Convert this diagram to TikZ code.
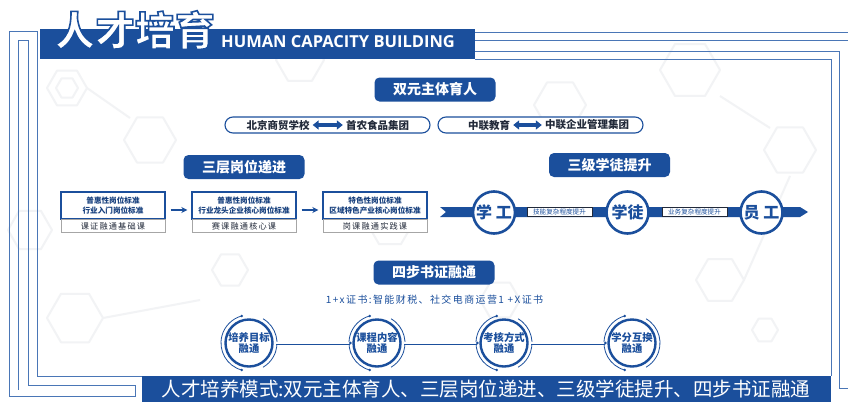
\documentclass[tikz,border=0pt]{standalone}
\usepackage{fontspec}
\setmainfont{Noto Sans CJK SC}
\newfontfamily\latb{Open Sans}
\newfontfamily\spaced{Noto Sans CJK SC}[LetterSpace=14]
\usetikzlibrary{arrows.meta,calc}
\definecolor{mblue}{HTML}{1B4F9C}
\definecolor{fblue}{HTML}{4A76B6}
\definecolor{tdark}{HTML}{222A3A}
\definecolor{hexc}{HTML}{F2F3F5}
\newcommand\fs[1]{\fontsize{#1}{#1}\selectfont}
\newcommand\outlined[1]{\special{pdf:code 2 Tr 1.6 w 0.106 0.31 0.612 RG}#1\special{pdf:code 0 Tr}}
\newcommand\hexa[3]{\draw[hexline] ($(#1,#2)+(0:#3)$) -- ($(#1,#2)+(60:#3)$) -- ($(#1,#2)+(120:#3)$) -- ($(#1,#2)+(180:#3)$) -- ($(#1,#2)+(240:#3)$) -- ($(#1,#2)+(300:#3)$) -- cycle;}
\begin{document}
\begin{tikzpicture}[x=1pt,y=-1pt,
  frame/.style={fblue,line width=0.9pt},
  hexline/.style={hexc,line width=2pt,line join=round},
  pill/.style={fill=mblue,rounded corners=5pt,text=white,font=\bfseries\fs{14},minimum width=121pt,minimum height=24pt,inner sep=0pt},
  stad/.style={draw=mblue,line width=1.1pt,fill=white,rounded corners=8pt,minimum width=205pt,minimum height=16pt,inner sep=0pt},
  pairtxt/.style={font=\bfseries\fs{10.5},text=tdark,inner sep=1pt},
  dblarr/.style={mblue,line width=3.2pt,{Triangle[length=6pt,width=9pt]}-{Triangle[length=6pt,width=9pt]},shorten <=2pt,shorten >=2pt},
  stdtop/.style={draw=mblue,line width=1.4pt,fill=white,minimum width=104pt,minimum height=27pt,inner sep=0pt,align=center,font=\bfseries\fs{7.6},text=mblue!80!black},
  stdbot/.style={draw=gray!70,line width=0.7pt,fill=white,minimum width=104pt,minimum height=13.5pt,inner sep=0pt,font=\spaced\fs{8.2},text=tdark},
  stepar/.style={mblue,line width=1.4pt,-{Stealth[length=6pt,width=6pt]},shorten <=5pt,shorten >=4pt},
  role/.style={circle,draw=mblue,line width=2.6pt,fill=white,minimum size=42pt,inner sep=0pt,font=\bfseries\fs{16},text=mblue},
  tag/.style={draw=tdark,line width=0.5pt,fill=white,minimum width=65pt,minimum height=9pt,inner sep=0pt,font=\fs{6.6},text=mblue},
  cert/.style={circle,draw=mblue,line width=2.4pt,fill=white,minimum size=47pt,inner sep=0pt,align=center,font=\bfseries\fs{10.3}\linespread{1.15}\selectfont,text=mblue},
  link/.style={mblue,line width=0.7pt,double=white,double distance=1.6pt,shorten <=2pt,shorten >=2pt},
]
\useasboundingbox (0,0) rectangle (848,402);
\fill[white] (0,0) rectangle (848,402);
% faint hexagon background
\hexa{67}{88}{20}
\hexa{67}{88}{11}
\hexa{150}{140}{26}
\hexa{75}{318}{28}
\hexa{30}{230}{22}
\hexa{300}{60}{24}
\hexa{560}{105}{26}
\hexa{690}{70}{30}
\hexa{790}{150}{26}
\hexa{720}{280}{24}
\hexa{765}{330}{13}
\hexa{500}{300}{20}
\hexa{390}{225}{22}
\hexa{230}{270}{18}
\draw[hexline] (87,88) -- (130,118);
\draw[hexline] (103,318) -- (200,300);
\draw[hexline] (720,96) -- (770,128);
\draw[hexline] (744,280) -- (790,176);
% frames
\draw[frame] (37,31) -- (9,31) -- (9,396) -- (135,396) -- (135,385) -- (28,385) -- (28,40) -- (18,40) -- (18,390);
\draw[frame] (37,31) -- (37,376) -- (142,376);
\draw[frame] (475,32) -- (848,32);
\draw[frame] (475,40) -- (848,40);
\draw[frame] (475,51) -- (839,51) -- (839,388) -- (848,388);
\draw[frame] (475,59) -- (831,59) -- (831,376);
% header
\fill[mblue] (40,29) rectangle (475,59);
\node[font=\bfseries\fs{40},text=white,inner sep=0pt] (title) at (135,30) {\outlined{人才培育}};
\node[font=\latb\bfseries\fs{16.5},text=white,inner sep=0pt,anchor=base west] (sub) at (221,47) {HUMAN CAPACITY BUILDING};
% section 1
\node[pill] (s1) at (435,89.5) {双元主体育人};
\node[stad] (pA) at (327.5,125) {};
\node[stad] (pB) at (540.5,125) {};
\node[pairtxt] (pA1) at (278,125) {北京商贸学校};
\node[pairtxt] (pA2) at (377.5,125) {首农食品集团};
\node[pairtxt] (pB1) at (489,125) {中联教育};
\node[pairtxt] (pB2) at (587,125) {中联企业管理集团};
\draw[dblarr] (pA1) -- (pA2);
\draw[dblarr] (pB1) -- (pB2);
% section 2
\node[pill] (s2) at (244,167) {三层岗位递进};
\node[stdtop] (b1) at (113,205.5) {普惠性岗位标准\\[2.5pt]行业入门岗位标准};
\node[stdbot] (c1) at (113,226) {课证融通基础课};
\node[stdtop] (b2) at (244,205.5) {普惠性岗位标准\\[2.5pt]行业龙头企业核心岗位标准};
\node[stdbot] (c2) at (244,226) {赛课融通核心课};
\node[stdtop] (b3) at (375,205.5) {特色性岗位标准\\[2.5pt]区域特色产业核心岗位标准};
\node[stdbot] (c3) at (375,226) {岗课融通实践课};
\draw[stepar] ([yshift=-4.5pt]b1.east) -- ([yshift=-4.5pt]b2.west);
\draw[stepar] ([yshift=-4.5pt]b2.east) -- ([yshift=-4.5pt]b3.west);
% section 3
\node[pill] (s3) at (609.5,165) {三级学徒提升};
\fill[mblue] (440,207) -- (800,207) -- (808,212) -- (800,217) -- (440,217) -- (446,212) -- cycle;
\node[role] (r1) at (494,212.5) {学 工};
\node[role] (r2) at (627.5,212.5) {学徒};
\node[role] (r3) at (761.5,212.5) {员 工};
\node[tag] (t1) at (559.5,211.5) {技能复杂程度提升};
\node[tag] (t2) at (694.5,211.5) {业务复杂程度提升};
% section 4
\node[pill] (s4) at (434,272.5) {四步书证融通};
\node[font=\spaced\fs{10},text=mblue,inner sep=0pt] (cap) at (434.5,300) {1+x证书:智能财税、社交电商运营1 +X证书};
\foreach \n/\x/\t in {1/249/{培养目标\\融通},2/377/{课程内容\\融通},3/504/{考核方式\\融通},4/632/{学分互换\\融通}}{
  \node[cert] (q\n) at (\x,343) {\t};
  \draw[mblue,line width=0.8pt] ($(q\n)+(105:28)$) arc[start angle=105,end angle=255,radius=28];
  \draw[mblue,line width=0.8pt] ($(q\n)+(-60:28)$) arc[start angle=-60,end angle=60,radius=28];
  \fill[mblue] ($(q\n)+(255:28)$) circle (1.4);
  \fill[mblue] ($(q\n)+(105:28)$) circle (1.4);
}
\draw[link] (q1.east) -- (q2.west);
\draw[link] (q2.east) -- (q3.west);
\draw[link] (q3.east) -- (q4.west);
\fill[mblue] ([xshift=-2pt]q2.west) circle (1.5);
\fill[mblue] ([xshift=-2pt]q3.west) circle (1.5);
\fill[mblue] ([xshift=-2pt]q4.west) circle (1.5);
% bottom banner
\fill[mblue] (142,376) rectangle (831,402);
\node[font=\fs{19.5},text=white,inner sep=0pt] (ban) at (486,389) {人才培养模式:双元主体育人、三层岗位递进、三级学徒提升、四步书证融通};
\end{tikzpicture}
\end{document}
